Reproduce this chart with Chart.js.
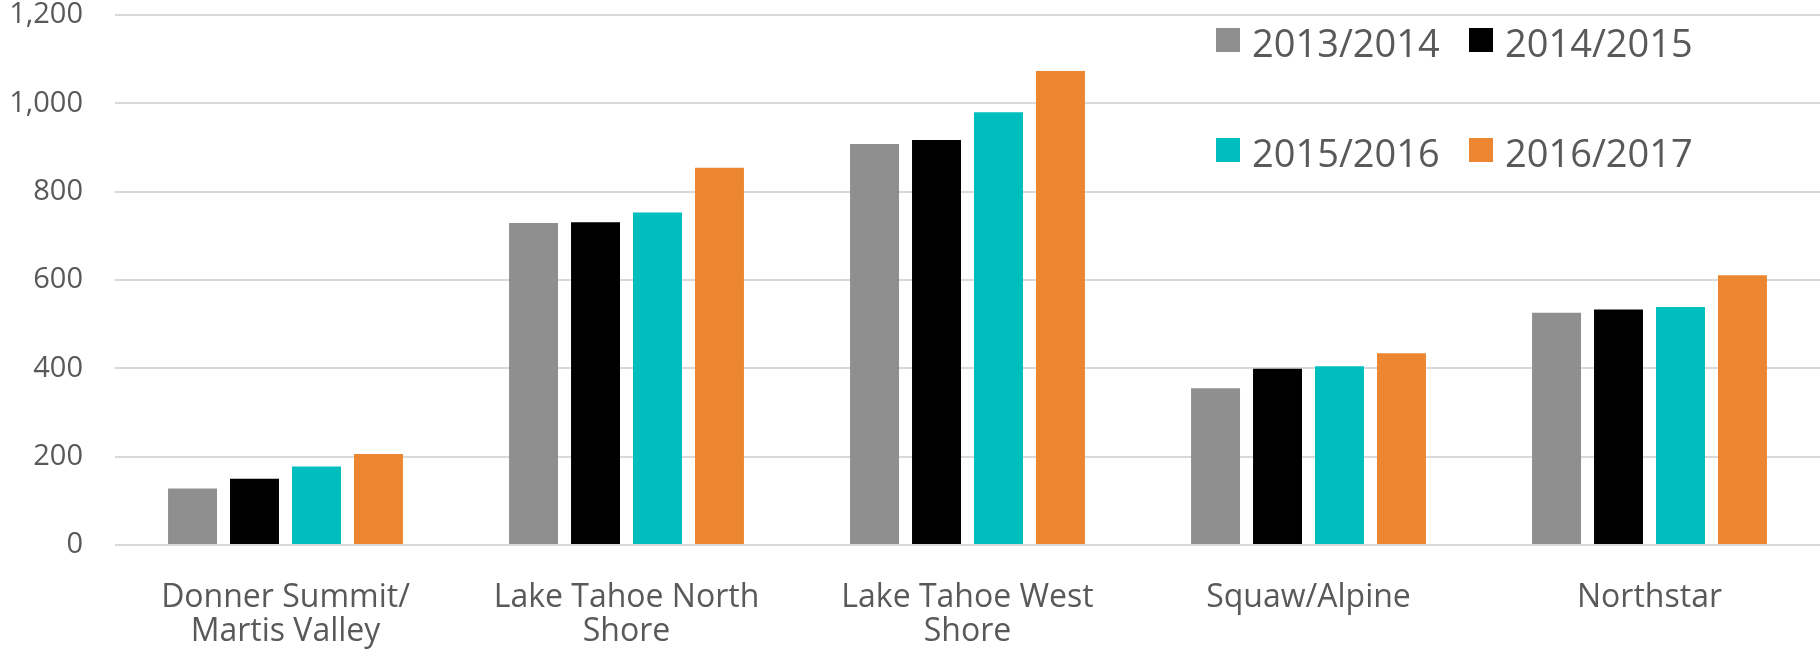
<!DOCTYPE html>
<html>
<head>
<meta charset="utf-8">
<script src="https://cdn.jsdelivr.net/npm/chart.js@4/dist/chart.umd.min.js"></script>
<style>
  body { margin: 0; background: #fff; }
  #wrap { width: 1820px; height: 654px; }
</style>
</head>
<body>
<div id="wrap"><canvas id="grafico"></canvas></div>
<script>
const categorias = [
  ["Donner Summit/", "Martis Valley"],
  ["Lake Tahoe North", "Shore"],
  ["Lake Tahoe West", "Shore"],
  "Squaw/Alpine",
  "Northstar",
];
const temporadas = ["2013/2014", "2014/2015", "2015/2016", "2016/2017"];
const valores2013 = [128, 729, 908, 355, 526];
const valores2014 = [150, 731, 917, 399, 533];
const valores2015 = [178, 753, 980, 405, 539];
const valores2016 = [206, 854, 1073, 434, 611];
const colores = ["#8f8f8f", "#000000", "#00bebe", "#ec8630"];

const fuente = "'Open Sans', sans-serif";
const gris = "#595959";

// leyenda dibujada encima del area del grafico, en 2 filas
const leyenda = {
  id: "leyenda",
  afterDraw(chart) {
    const ctx = chart.ctx;
    const cols = [1216, 1469];
    const filas = [28, 138];
    ctx.save();
    ctx.font = "38px " + fuente;
    ctx.textBaseline = "alphabetic";
    chart.data.datasets.forEach((ds, i) => {
      const x = cols[i % 2];
      const y = filas[Math.floor(i / 2)];
      ctx.fillStyle = ds.backgroundColor;
      ctx.fillRect(x, y, 24, 24);
      ctx.fillStyle = gris;
      ctx.fillText(ds.label, x + 36, y + 29);
    });
    ctx.restore();
  },
};

const datos = [valores2013, valores2014, valores2015, valores2016];
const datasets = temporadas.map((t, i) => {
  return {
    label: t,
    data: datos[i],
    backgroundColor: colores[i],
    borderWidth: 0,
    categoryPercentage: 0.727,
    barPercentage: 0.79,
  };
});

new Chart(document.getElementById("grafico"), {
  type: "bar",
  data: { labels: categorias, datasets: datasets },
  options: {
    responsive: true,
    maintainAspectRatio: false,
    animation: false,
    layout: { padding: { top: 15, right: 0, bottom: 0, left: 0 } },
    plugins: {
      legend: { display: false },
      tooltip: { enabled: false },
    },
    scales: {
      x: {
        grid: { display: false },
        border: { display: false },
        ticks: {
          color: gris,
          font: { family: fuente, size: 32, lineHeight: 1.05 },
          padding: 28,
          maxRotation: 0,
          autoSkip: false,
        },
        afterFit(scale) {
          scale.height = 109;
        },
      },
      y: {
        min: 0,
        max: 1200,
        border: { display: false },
        grid: { color: "#d9d9d9", lineWidth: 2, drawTicks: false },
        ticks: {
          stepSize: 200,
          color: gris,
          padding: 32,
          font: { family: fuente, size: 29 },
          callback: (v) => v.toLocaleString("en-US"),
        },
        afterFit(scale) {
          scale.width = 115;
          // sin esto el area empieza muy abajo
          scale.paddingTop = 0;
          scale.paddingBottom = 0;
        },
      },
    },
  },
  plugins: [leyenda],
});
</script>
</body>
</html>
